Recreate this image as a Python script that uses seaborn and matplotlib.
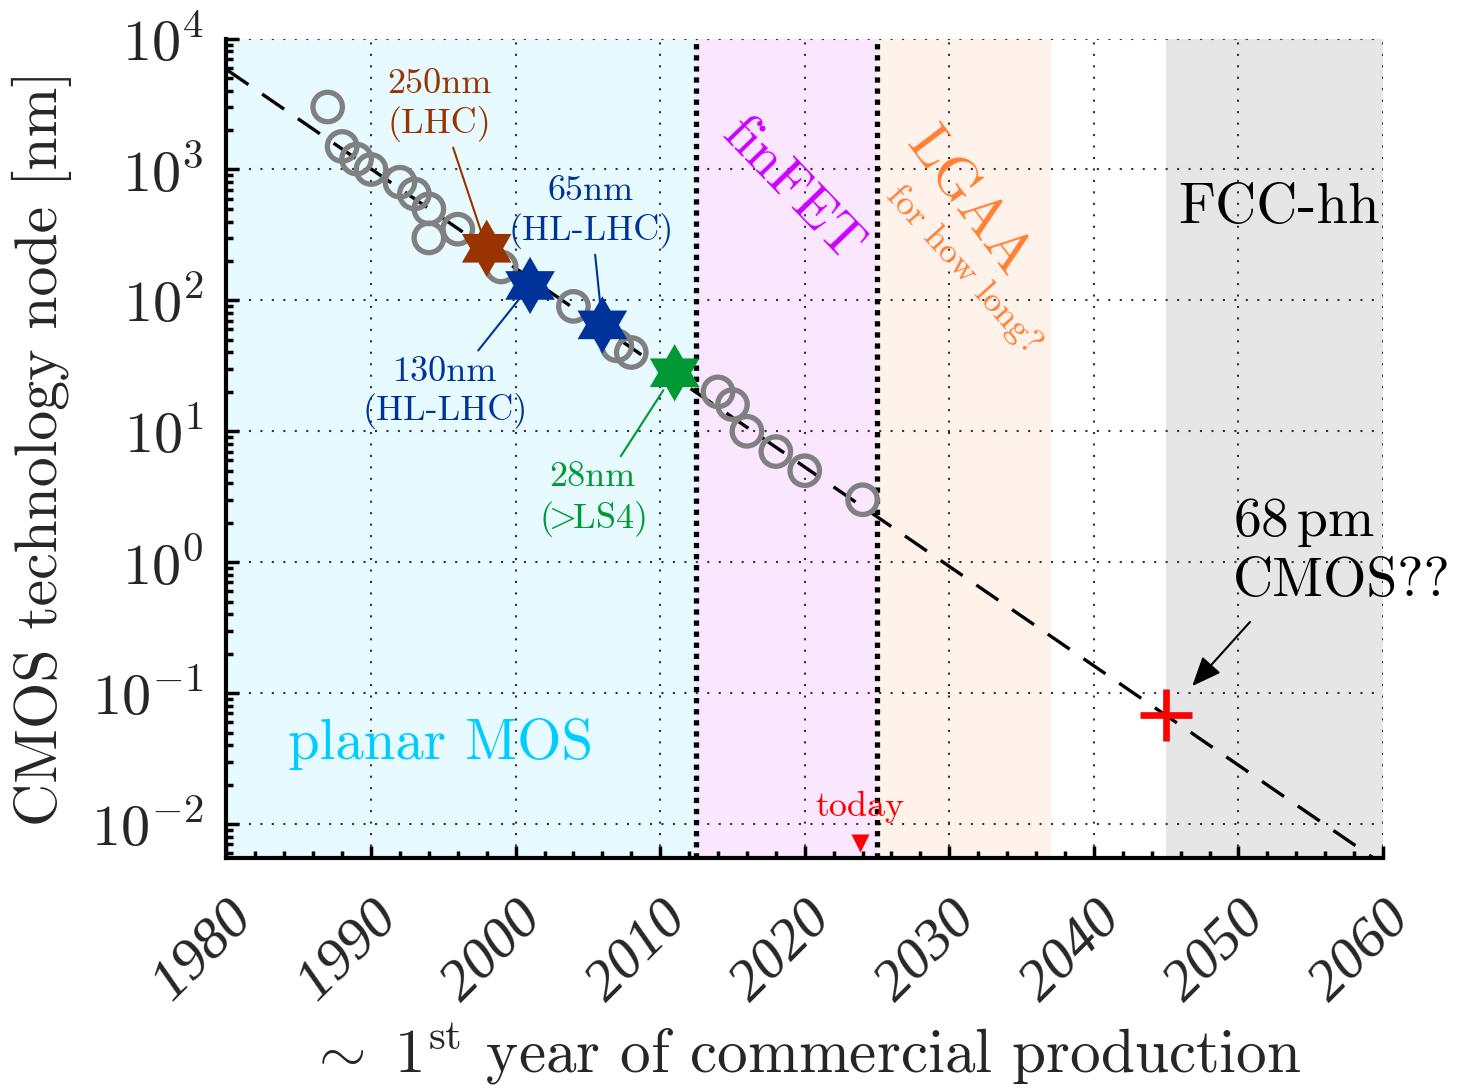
import numpy as np
import matplotlib
matplotlib.use('Agg')
import matplotlib.pyplot as plt
from matplotlib.ticker import MultipleLocator, LogLocator
import seaborn as sns

# CMOS nodes by first year of production
years = [1987, 1988, 1989, 1990, 1992, 1993, 1994, 1994, 1996, 1999,
         2004, 2007, 2008, 2014, 2015, 2016, 2018, 2020, 2024]
nodes_nm = [3000, 1500, 1200, 1000, 800, 650, 500, 300, 350, 180,
            90, 45, 40, 20, 16, 10, 7, 5, 3]

# nodes used for HEP front-end ASICs
hep_years = [1998, 2001, 2006, 2011]
hep_nm = [250, 130, 65, 28]
hep_labels = ['250nm\n(LHC)', '130nm\n(HL-LHC)', '65nm\n(HL-LHC)', '28nm\n($\\!\\!>\\!\\!$LS4)']
hep_colors = ['#993300', '#003399', '#003399', '#009933']

# exponential scaling trend
trend_years = [1980, 2060]
trend_nm = [5800, 0.0049]

# FCC-hh extrapolation and "today"
fcc_year = 2045
fcc_nm = 0.068
today_year = 2023.8

# technology eras
era_start = [1980, 2012.5, 2025, 2045]
era_end = [2012.5, 2025, 2037, 2060]
era_colors = ['#e6faff', '#fae6ff', '#fff2eb', '#e6e6e6']
era_bounds = [2012.5, 2025]

sns.set_style('ticks')
plt.rcParams['font.family'] = ['cmr10', 'DejaVu Serif']
plt.rcParams['mathtext.fontset'] = 'cm'
plt.rcParams['axes.formatter.use_mathtext'] = True
plt.rcParams['axes.unicode_minus'] = True

# six-pointed star (hexagram) marker
ang = np.deg2rad(90 + 30 * np.arange(12))
rad = np.where(np.arange(12) % 2 == 0, 1.0, 1 / np.sqrt(3))
hexagram = np.column_stack([rad * np.cos(ang), rad * np.sin(ang)])

fig = plt.figure(figsize=(14.6, 10.89), dpi=100)
ax = fig.add_axes([0.1551, 0.2121, 0.7922, 0.7525])

# shaded eras
for s, e, c in zip(era_start, era_end, era_colors):
    ax.axvspan(s, e, color=c, lw=0, zorder=0)
for b in era_bounds:
    ax.axvline(b, color='k', lw=3.8, ls=(0, (1, 1.1)), zorder=1.5)

# trend line
sns.lineplot(x=trend_years, y=trend_nm, color='k', lw=2.4,
             linestyle=(0, (8, 5)), ax=ax, zorder=2)

# historical nodes
sns.scatterplot(x=years, y=nodes_nm, marker='o', s=450, facecolor='none',
                edgecolor='#808080', linewidth=3.8, ax=ax, zorder=3)

# HEP nodes
sns.scatterplot(x=hep_years, y=hep_nm, hue=hep_labels, palette=hep_colors,
                marker=hexagram, s=1700, linewidth=0, legend=False, ax=ax, zorder=4)

# FCC-hh point
sns.scatterplot(x=[fcc_year], y=[fcc_nm], marker='+', s=1400, color='#ff0000',
                linewidth=4.8, ax=ax, zorder=5)

ax.set_yscale('log')
ax.set_xlim(1980, 2060)
ax.set_ylim(0.0055, 1e4)
ax.xaxis.set_major_locator(MultipleLocator(10))
ax.xaxis.set_minor_locator(MultipleLocator(2))
ax.yaxis.set_major_locator(LogLocator(base=10, numticks=30))
ax.yaxis.set_minor_locator(LogLocator(base=10, subs=np.arange(2, 10), numticks=30))

ax.grid(True, which='major', color='#333333', lw=1.5, ls=(0, (1, 4.5)))
ax.set_axisbelow(True)
for side in ['top', 'right']:
    ax.spines[side].set_visible(False)
for side in ['left', 'bottom']:
    ax.spines[side].set_linewidth(3)
    ax.spines[side].set_color('k')

ax.tick_params(which='both', direction='in', width=2.5, color='k')
ax.tick_params(which='major', length=9)
ax.tick_params(which='minor', length=5)
ax.tick_params(axis='y', labelsize=42, pad=16)
ax.tick_params(axis='x', labelsize=42, pad=24)
for lab in ax.get_xticklabels():
    lab.set_rotation(45)
    lab.set_ha('right')
    lab.set_va('top')
    lab.set_rotation_mode('anchor')
    lab.set_family('Liberation Serif')
    lab.set_style('italic')

ax.set_xlabel(r'$\sim\ 1^{\mathrm{st}}$ year of commercial production', fontsize=44, labelpad=6)
ax.set_ylabel('CMOS technology node [nm]', fontsize=43, labelpad=14)

# labels of the HEP nodes
text_pos = [(1994.7, 3100), (1995.1, 19.8), (2005.2, 472), (2005.3, 2.96)]
shrink = [10, 11, 12, 15]
for yr, nm, lab, c, tp, sb in zip(hep_years, hep_nm, hep_labels, hep_colors, text_pos, shrink):
    ax.annotate(lab, xy=(yr, nm), xytext=tp, ha='center', va='center', fontsize=26,
                color=c, zorder=6,
                arrowprops=dict(arrowstyle='-', color=c, lw=1.5, shrinkA=2, shrinkB=sb))

# era names
ax.text(1994.8, 0.0316, 'planar MOS', fontsize=41, color='#00ccff', ha='center', va='baseline')
ax.text(2019.1, 695, 'finFET', fontsize=40, color='#cc00ff', ha='center', va='center',
        rotation=-46, rotation_mode='anchor')
ax.text(2031.25, 562, 'LGAA', fontsize=42, color='#ff8033', ha='center', va='center',
        rotation=-53, rotation_mode='anchor')
ax.text(2031.0, 170, 'for how long?', fontsize=26, color='#ff8033', ha='center', va='center',
        rotation=-48, rotation_mode='anchor')
ax.text(2052.8, 392, 'FCC-hh', fontsize=41, color='k', ha='center', va='baseline')

# FCC-hh extrapolation note
ax.text(2049.6, 1.21, '68$\\,$pm\nCMOS??', fontsize=40, color='k', ha='left', va='center')
ax.annotate('', xy=(fcc_year, fcc_nm), xytext=(2050.8, 0.35),
            arrowprops=dict(arrowstyle='-|>,head_length=0.6,head_width=0.25', color='k',
                            lw=1.5, mutation_scale=30, shrinkA=0, shrinkB=28))

# today marker
ax.plot(today_year, 0.018, marker='v', ms=13, color='#ff0000', mec='none',
        transform=ax.get_xaxis_transform(), clip_on=False, zorder=6)
ax.text(today_year, 0.0116, 'today', fontsize=26, color='#ff0000', ha='center', va='baseline')

fig.savefig('out.png', dpi=100)
